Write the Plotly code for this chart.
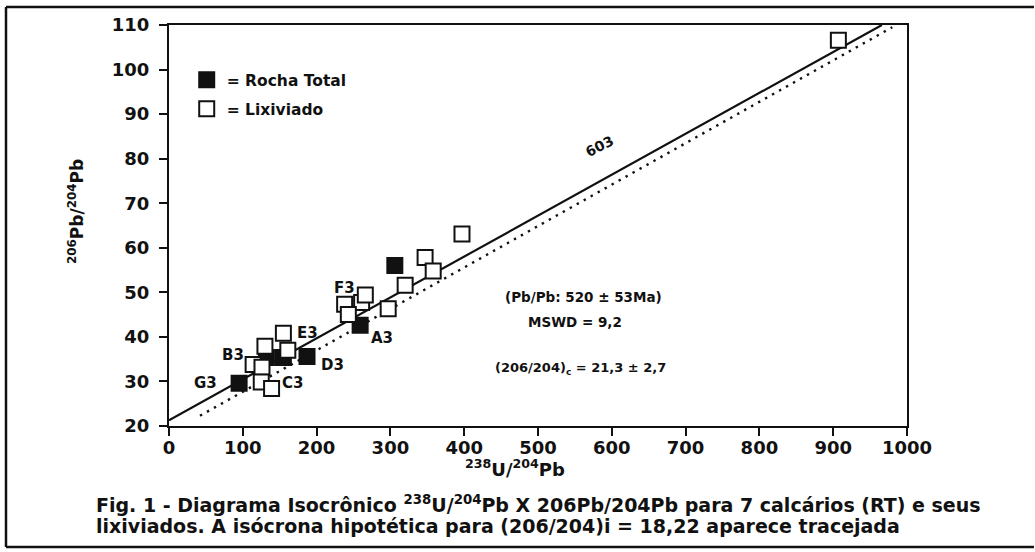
import plotly.graph_objects as go

# --- data ---
rt_x = [95, 132, 155, 187, 259, 306]            # Rocha Total (filled)
rt_y = [29.6, 35.4, 35.4, 35.6, 42.6, 56.0]

lx_x = [114, 126, 130, 155, 161, 125, 139, 238, 261, 266, 243, 297, 320, 347, 358, 397, 907]  # Lixiviado (open)
lx_y = [33.8, 33.2, 37.9, 40.8, 37.0, 29.9, 28.4, 47.3, 47.7, 49.4, 45.0, 46.3, 51.6, 57.8, 54.8, 63.1, 106.6]

iso_x = [0, 966]          # fitted isochron (solid)
iso_y = [21.3, 110.0]
hyp_x = [42, 980]         # hypothetical isochron (dotted)
hyp_y = [22.3, 109.5]

sample_labels = ["F3", "E3", "B3", "G3", "C3", "D3", "A3"]
label_x = [238, 188, 87, 49, 168, 221, 289]
label_y = [51.0, 40.9, 35.9, 29.6, 29.6, 33.7, 39.7]

x_ticks = [0, 100, 200, 300, 400, 500, 600, 700, 800, 900, 1000]
y_ticks = [20, 30, 40, 50, 60, 70, 80, 90, 100, 110]

FONT = "DejaVu Sans"
BLACK = "#111111"

fig = go.Figure()

fig.add_trace(go.Scatter(x=iso_x, y=iso_y, mode="lines",
                         line=dict(color=BLACK, width=2.2), showlegend=False, hoverinfo="skip"))
fig.add_trace(go.Scatter(x=hyp_x, y=hyp_y, mode="lines",
                         line=dict(color=BLACK, width=2.4, dash="2.4px,5.6px"), showlegend=False, hoverinfo="skip"))

fig.add_trace(go.Scatter(x=rt_x, y=rt_y, mode="markers", name="= Rocha Total",
                         legendgroup="a",
                         marker=dict(symbol="square", size=15, color=BLACK,
                                     line=dict(color=BLACK, width=2))))
fig.add_trace(go.Scatter(x=lx_x, y=lx_y, mode="markers", name="= Lixiviado",
                         legendgroup="b",
                         marker=dict(symbol="square", size=15, color="white",
                                     line=dict(color=BLACK, width=2))))

for t, lx, ly in zip(sample_labels, label_x, label_y):
    fig.add_annotation(x=lx, y=ly, text=t, showarrow=False,
                       font=dict(family=FONT, size=15, color=BLACK, weight="bold"))

fig.add_annotation(x=584, y=82.8, text="603", showarrow=False, textangle=-27,
                   font=dict(family=FONT, size=14, color=BLACK, weight="bold"))
fig.add_annotation(x=561, y=49.0, text="(Pb/Pb: 520 ± 53Ma)", showarrow=False,
                   font=dict(family=FONT, size=13.5, color=BLACK, weight="bold"))
fig.add_annotation(x=550, y=43.3, text="MSWD = 9,2", showarrow=False,
                   font=dict(family=FONT, size=13.5, color=BLACK, weight="bold"))
fig.add_annotation(x=558, y=33.0, text="(206/204)<sub>c</sub> = 21,3 ± 2,7", showarrow=False,
                   font=dict(family=FONT, size=13, color=BLACK, weight="bold"))

px = lambda v: (v - 169) / 738
py = lambda v: (426 - v) / 401

# axis titles
fig.add_annotation(xref="paper", yref="paper", x=px(515), y=py(482),
                   text="<sup>238</sup>U/<sup>204</sup>Pb", showarrow=False,
                   font=dict(family=FONT, size=18, color=BLACK, weight="bold"))
fig.add_annotation(xref="paper", yref="paper", x=px(63), y=py(212),
                   text="<sup>206</sup>Pb/<sup>204</sup>Pb", showarrow=False, textangle=-90,
                   font=dict(family=FONT, size=17, color=BLACK, weight="bold"))

# caption
fig.add_annotation(xref="paper", yref="paper", x=px(94), y=py(518),
                   xanchor="left", align="left",
                   text="Fig. 1 - Diagrama Isocrônico <sup>238</sup>U/<sup>204</sup>Pb X 206Pb/204Pb para 7 calcários (RT) e seus",
                   showarrow=False, font=dict(family=FONT, size=19, color=BLACK, weight="bold"))
fig.add_annotation(xref="paper", yref="paper", x=px(94), y=py(539),
                   xanchor="left", align="left",
                   text="lixiviados. A isócrona hipotética para (206/204)i = 18,22 aparece tracejada",
                   showarrow=False, font=dict(family=FONT, size=19, color=BLACK, weight="bold"))

# outer frame of the figure
for (x0, y0, x1, y1) in [(6, 7, 1034, 7), (6, 7, 6, 547), (6, 547, 1034, 547)]:
    fig.add_shape(type="line", xref="paper", yref="paper",
                  x0=px(x0), y0=py(y0), x1=px(x1), y1=py(y1),
                  line=dict(color=BLACK, width=2.5))

axis_common = dict(showgrid=False, zeroline=False, showline=True, linecolor=BLACK, linewidth=2.2,
                   mirror=True, ticks="outside", ticklen=8, tickwidth=2, tickcolor=BLACK,
                   tickfont=dict(family=FONT, size=18, color=BLACK, weight="bold"))

fig.update_xaxes(range=[0, 1000], tickvals=x_ticks, ticklabelstandoff=-4, **axis_common)
fig.update_yaxes(range=[20, 110], tickvals=y_ticks, ticklabelstandoff=6, **axis_common)

fig.update_layout(
    width=1035, height=552,
    margin=dict(l=169, r=128, t=25, b=126),
    paper_bgcolor="white", plot_bgcolor="white",
    showlegend=True,
    legend=dict(x=0.024, y=0.905, xanchor="left", yanchor="top",
                bgcolor="rgba(0,0,0,0)", tracegroupgap=6, traceorder="grouped",
                font=dict(family=FONT, size=15.5, color=BLACK, weight="bold")),
)

fig.write_html("out.html", config={"displayModeBar": False},
               post_script="document.body.style.margin='0';")
